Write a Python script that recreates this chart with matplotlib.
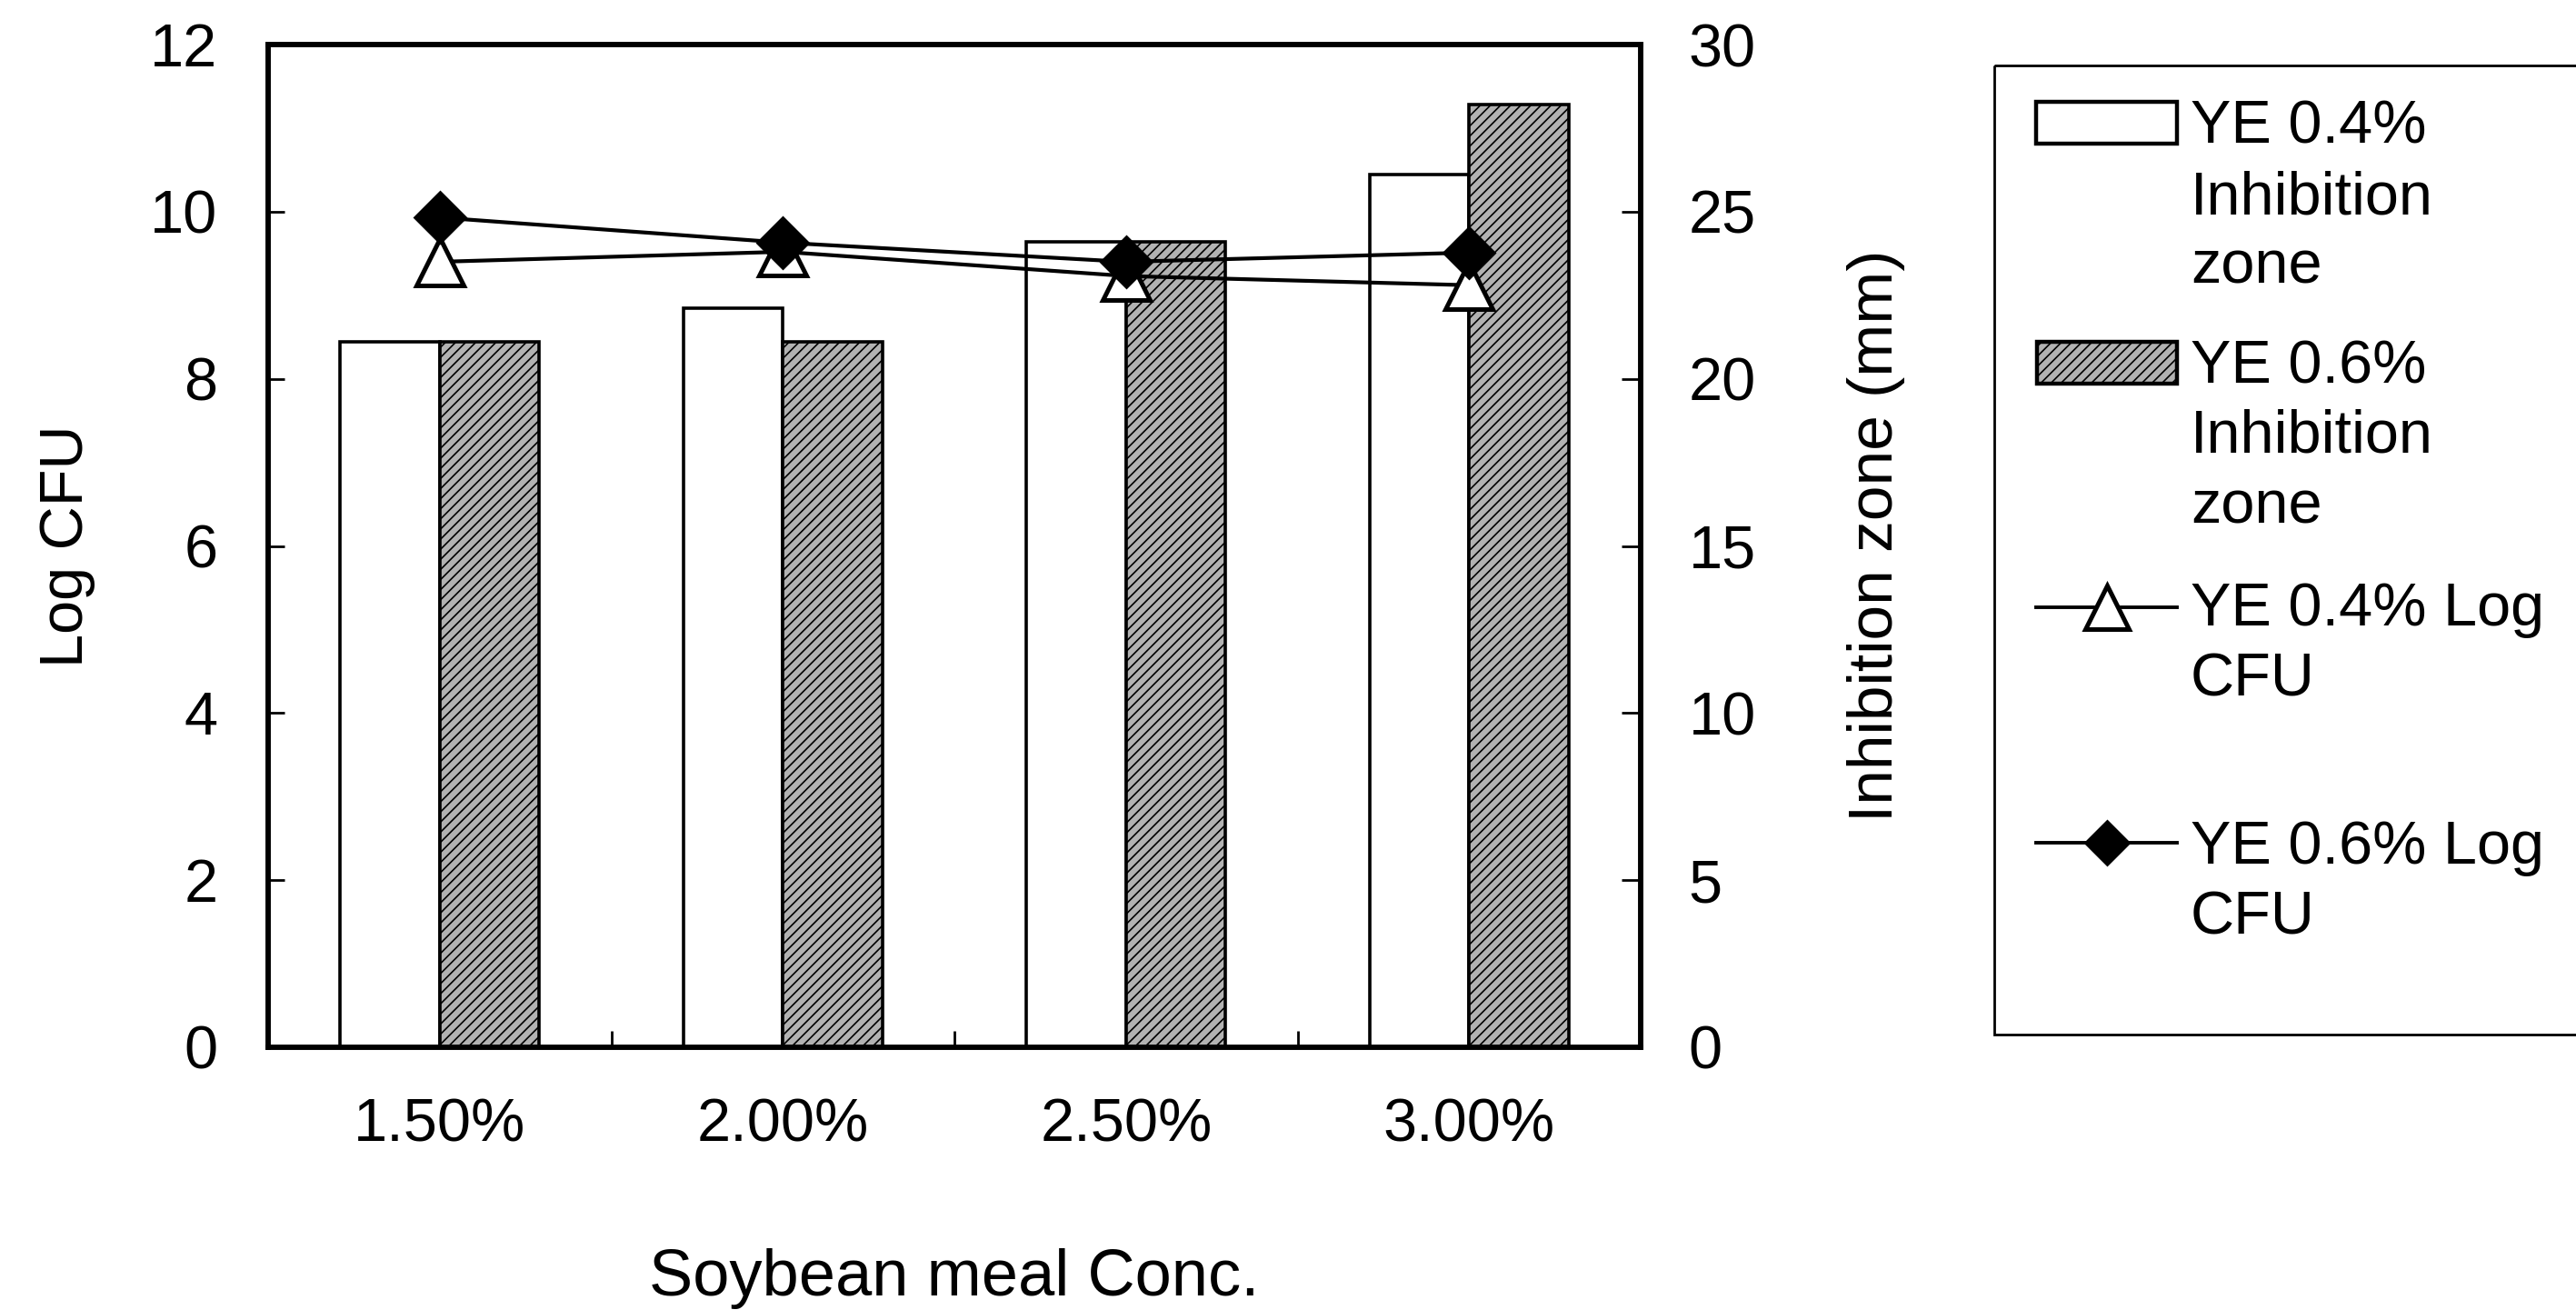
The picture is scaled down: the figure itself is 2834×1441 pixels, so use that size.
import numpy as np
import matplotlib
matplotlib.use("Agg")
import matplotlib.pyplot as plt
from matplotlib.patches import Rectangle

# ---- data ----
categories = ["1.50%", "2.00%", "2.50%", "3.00%"]
zone_ye04 = [21.1, 22.1, 24.1, 26.1]      # Inhibition zone (mm), white bars
zone_ye06 = [21.1, 21.1, 24.1, 28.2]      # Inhibition zone (mm), gray bars
logcfu_ye04 = [9.40, 9.52, 9.23, 9.12]    # Log CFU, triangles
logcfu_ye06 = [9.93, 9.63, 9.40, 9.51]    # Log CFU, diamonds
left_ticks = [0, 2, 4, 6, 8, 10, 12]
right_ticks = [0, 5, 10, 15, 20, 25, 30]
legend_labels = [
    ["YE 0.4%", "Inhibition", "zone"],
    ["YE 0.6%", "Inhibition", "zone"],
    ["YE 0.4% Log", "CFU"],
    ["YE 0.6% Log", "CFU"],
]

plt.rcParams["font.family"] = ["Liberation Sans", "DejaVu Sans"]
plt.rcParams["hatch.linewidth"] = 0.6
plt.rcParams["hatch.color"] = "#6a6a6a"

W, H, DPI = 2834, 1441, 200
fig = plt.figure(figsize=(W / DPI, H / DPI), dpi=DPI)

# axes box in pixel coords
ax_l, ax_r, ax_t, ax_b = 295, 1805, 49, 1152
ax = fig.add_axes([ax_l / W, (H - ax_b) / H, (ax_r - ax_l) / W, (ax_b - ax_t) / H])
ax2 = ax.twinx()

fs = 24
gray = "#b2b2b2"
x = np.arange(len(categories))
bw = 0.29

# bars on the right axis (Inhibition zone)
ax2.bar(x - bw / 2, zone_ye04, bw, color="white", edgecolor="black", linewidth=1.3)
ax2.bar(x + bw / 2, zone_ye06, bw, color=gray, edgecolor="black", linewidth=1.3, hatch="//////")
ax2.set_ylim(0, 30)
ax2.set_yticks(right_ticks)

# lines on the left axis (Log CFU), drawn above the bars
ax.set_zorder(ax2.get_zorder() + 1)
ax.patch.set_visible(False)
ax.plot(x, logcfu_ye04, color="black", lw=1.5, marker="^", ms=19,
        markerfacecolor="white", markeredgecolor="black", markeredgewidth=1.8)
ax.plot(x, logcfu_ye06, color="black", lw=1.5, marker="D", ms=14.5,
        markerfacecolor="black", markeredgecolor="black")
ax.set_ylim(0, 12)
ax.set_yticks(left_ticks)
ax.set_xlim(-0.5, len(categories) - 0.5)
ax.set_xticks(x)
ax.set_xticklabels(categories)
ax.set_xticks(x[:-1] + 0.5, minor=True)

ax.tick_params(axis="x", which="major", length=0, pad=20, labelsize=fs)
ax.tick_params(axis="x", which="minor", direction="in", length=6.5, width=1.0)
ax.tick_params(axis="y", direction="in", length=6.5, width=1.0, pad=20, labelsize=fs)
ax2.tick_params(axis="y", direction="in", length=7.5, width=1.0, pad=19, labelsize=fs)

for a in (ax, ax2):
    for s in a.spines.values():
        s.set_linewidth(2.0)

ax.set_ylabel("Log CFU", fontsize=fs)
ax.yaxis.set_label_coords(-0.126, 0.5)
ax2.set_ylabel("Inhibition zone (mm)", fontsize=25)
ax2.yaxis.set_label_coords(1.15, 0.51)
ax.set_xlabel("Soybean meal Conc.", fontsize=26)
ax.xaxis.set_label_coords(0.5, -0.2)

# ---- legend drawn in pixel coordinates ----
lg = fig.add_axes([0, 0, 1, 1])
lg.set_xlim(0, W)
lg.set_ylim(H, 0)
lg.axis("off")
lg.add_patch(Rectangle((2194, 72), 700, 1066, fill=False, edgecolor="black", lw=1.0, clip_on=False))
lg.add_patch(Rectangle((2240, 112), 155, 46, facecolor="white", edgecolor="black", lw=1.6))
lg.add_patch(Rectangle((2241, 376), 154, 46, facecolor=gray, edgecolor="black", lw=1.6, hatch="//////"))
lg.plot([2240, 2395], [668, 668], color="black", lw=1.4)
lg.plot([2318], [668], marker="^", ms=17, markerfacecolor="white", markeredgecolor="black", markeredgewidth=1.8)
lg.plot([2240, 2395], [927, 927], color="black", lw=1.4)
lg.plot([2318], [927], marker="D", ms=12, markerfacecolor="black", markeredgecolor="black")

baselines = [[158, 236, 312], [422, 498, 576], [688, 766], [950, 1028]]
for lines, ys in zip(legend_labels, baselines):
    for txt, yb in zip(lines, ys):
        lg.text(2410, yb, txt, fontsize=fs, va="baseline", ha="left")

fig.savefig("out.png", dpi=DPI)
